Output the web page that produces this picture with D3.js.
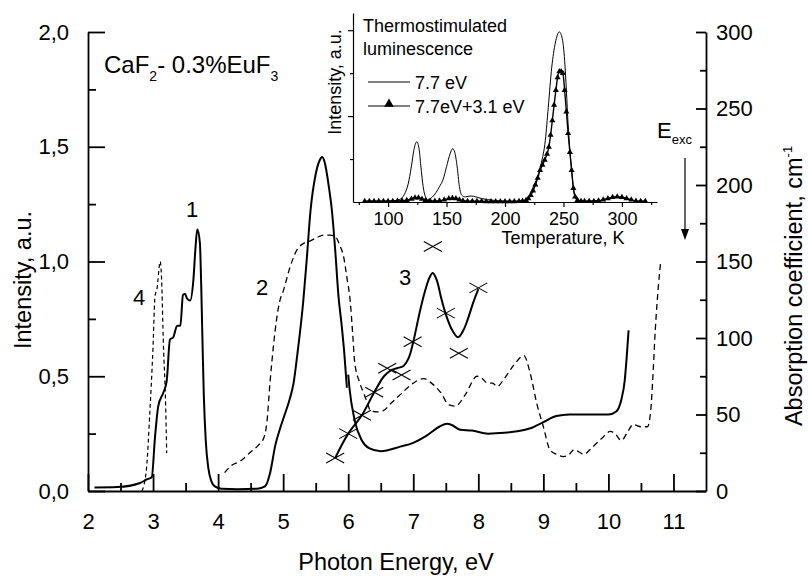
<!DOCTYPE html>
<html>
<head>
<meta charset="utf-8">
<script src="https://cdnjs.cloudflare.com/ajax/libs/d3/7.8.5/d3.min.js"></script>
<style>
body { margin: 0; background: #fff; }
</style>
</head>
<body>
<svg id="chart" width="808" height="576"></svg>
<script>
// curve 1 + 2 (solid, luminescence / excitation), Intensity a.u.
var lumE = [2.1, 2.45, 2.8, 2.9, 2.98, 3.03, 3.08, 3.16, 3.21, 3.26, 3.31, 3.37, 3.42, 3.46, 3.49, 3.52, 3.57, 3.62, 3.65, 3.68, 3.72, 3.74, 3.76, 3.78, 3.81, 3.85, 3.9, 3.95, 4.05, 4.3, 4.6, 4.72, 4.8, 4.88, 4.95, 5.02, 5.1, 5.16, 5.22, 5.31, 5.36, 5.42, 5.5, 5.56, 5.6, 5.64, 5.7, 5.75, 5.8, 5.85, 5.9, 5.94, 5.98];
var lumI = [0.015, 0.017, 0.035, 0.05, 0.06, 0.235, 0.37, 0.43, 0.48, 0.66, 0.67, 0.72, 0.72, 0.855, 0.86, 0.84, 0.83, 0.92, 1.05, 1.14, 1.08, 0.9, 0.65, 0.42, 0.22, 0.1, 0.04, 0.02, 0.01, 0.008, 0.01, 0.02, 0.08, 0.2, 0.27, 0.33, 0.4, 0.47, 0.6, 0.83, 1.0, 1.22, 1.38, 1.44, 1.455, 1.43, 1.33, 1.22, 1.05, 0.85, 0.72, 0.6, 0.45];

// curve 4 (short dashed)
var band4E = [2.83, 2.9, 2.95, 3.0, 3.03, 3.06, 3.11, 3.13, 3.16, 3.19, 3.21];
var band4I = [0.0, 0.1, 0.34, 0.63, 0.85, 0.88, 1.0, 0.93, 0.63, 0.41, 0.165];

// curve 2 (long dashed)
var exc2E = [4.1, 4.2, 4.34, 4.5, 4.62, 4.7, 4.75, 4.8, 4.85, 4.9, 4.95, 5.0, 5.1, 5.21, 5.32, 5.42, 5.52, 5.62, 5.72, 5.8, 5.87, 5.93, 5.98, 6.03, 6.07, 6.1, 6.18, 6.26, 6.3, 6.34, 6.45, 6.54, 6.65, 6.8, 7.0, 7.16, 7.28, 7.42, 7.55, 7.65, 7.8, 7.98, 8.06, 8.14, 8.22, 8.29, 8.4, 8.55, 8.7, 8.8, 8.9, 9.0, 9.1, 9.2, 9.31, 9.4, 9.47, 9.55, 9.62, 9.75, 9.9, 10.03, 10.1, 10.2, 10.3, 10.38, 10.5, 10.6, 10.65, 10.68, 10.72, 10.77, 10.8];
var exc2I = [0.08, 0.11, 0.13, 0.17, 0.2, 0.23, 0.3, 0.48, 0.63, 0.75, 0.83, 0.87, 0.97, 1.05, 1.08, 1.09, 1.105, 1.115, 1.115, 1.11, 1.07, 1.02, 0.93, 0.83, 0.68, 0.56, 0.47, 0.41, 0.38, 0.35, 0.345, 0.35, 0.38, 0.42, 0.47, 0.49, 0.47, 0.43, 0.375, 0.37, 0.42, 0.5, 0.49, 0.47, 0.47, 0.455, 0.49, 0.55, 0.59, 0.51, 0.38, 0.28, 0.18, 0.16, 0.15, 0.16, 0.18, 0.17, 0.16, 0.19, 0.23, 0.26, 0.25, 0.22, 0.26, 0.29, 0.28, 0.28, 0.35, 0.48, 0.7, 0.9, 0.99];

// absorption (solid), cm-1, right axis
var absE = [6.0, 6.02, 6.1, 6.21, 6.32, 6.5, 6.8, 7.0, 7.2, 7.4, 7.52, 7.6, 7.72, 7.9, 8.15, 8.4, 8.6, 8.8, 9.0, 9.2, 9.4, 9.7, 10.0, 10.12, 10.2, 10.25, 10.28, 10.31];
var absK = [76, 67, 46, 33, 28, 26, 29, 31.5, 36, 42, 44, 43, 40, 39.5, 37.5, 38, 39, 41, 45, 49, 50, 50, 50, 52, 60, 72, 87, 105];

// curve 3 (solid + crosses)
var c3E = [5.8, 6.0, 6.21, 6.4, 6.55, 6.65, 6.75, 6.85, 6.93, 7.0, 7.1, 7.18, 7.25, 7.3, 7.36, 7.43, 7.5, 7.6, 7.69, 7.77, 7.84, 7.92, 8.0];
var c3I = [0.144, 0.25, 0.33, 0.43, 0.5, 0.525, 0.535, 0.545, 0.58, 0.65, 0.78, 0.87, 0.93, 0.95, 0.92, 0.84, 0.77, 0.7, 0.67, 0.7, 0.75, 0.82, 0.88];
var crossE = [5.8, 6.0, 6.21, 6.4, 6.6, 6.82, 6.99, 7.3, 7.5, 7.7, 8.0];
var crossI = [0.144, 0.25, 0.33, 0.43, 0.535, 0.505, 0.65, 1.065, 0.775, 0.6, 0.885];

// inset: thermostimulated luminescence
var tempA = [82, 95, 105, 110, 114, 117, 120, 122, 124.5, 126.5, 128, 130, 132, 134, 138, 141, 144, 147, 150, 153, 155.2, 157, 159, 161, 163, 166, 171, 175, 180, 190, 200, 212, 218, 221, 224, 228, 231, 234.5, 237, 240, 243, 246.5, 249, 251, 252.5, 254, 255.5, 257, 258.5, 260, 262, 266, 280, 288, 296, 304, 312, 320];
var intA = [0.01, 0.01, 0.015, 0.03, 0.09, 0.2, 0.42, 0.6, 0.7, 0.62, 0.42, 0.18, 0.06, 0.03, 0.06, 0.11, 0.18, 0.26, 0.41, 0.56, 0.62, 0.58, 0.42, 0.18, 0.08, 0.06, 0.07, 0.06, 0.04, 0.02, 0.01, 0.01, 0.03, 0.07, 0.17, 0.3, 0.45, 0.72, 1.1, 1.57, 1.85, 1.98, 1.9, 1.65, 1.3, 0.9, 0.6, 0.37, 0.16, 0.06, 0.02, 0.01, 0.015, 0.04, 0.06, 0.04, 0.01, 0.008];
var tempB = [80, 84, 88, 92, 96, 100, 104, 108, 112, 116, 120, 123, 126, 129, 132, 136, 140, 144, 148, 152, 155, 158, 161, 164, 168, 172, 176, 180, 184, 188, 192, 196, 200, 204, 208, 212, 215, 218, 220, 222, 224, 226, 228, 230, 232, 234, 236, 237.5, 239, 240.5, 242, 243.5, 245, 246.5, 248, 249.5, 251, 252.5, 254, 255.5, 257, 258.5, 260, 262, 265, 268, 272, 276, 280, 284, 288, 292, 296, 300, 304, 308, 312, 316, 320];
var intB = [0.01, 0.01, 0.01, 0.01, 0.01, 0.01, 0.01, 0.012, 0.015, 0.02, 0.035, 0.05, 0.05, 0.035, 0.02, 0.012, 0.012, 0.015, 0.025, 0.04, 0.045, 0.04, 0.025, 0.015, 0.01, 0.01, 0.008, 0.008, 0.006, 0.006, 0.005, 0.005, 0.005, 0.005, 0.006, 0.008, 0.012, 0.02, 0.04, 0.08, 0.13, 0.2, 0.28, 0.37, 0.43, 0.49, 0.56, 0.64, 0.78, 0.95, 1.13, 1.3, 1.45, 1.52, 1.52, 1.5, 1.3, 1.05, 0.8, 0.58, 0.37, 0.16, 0.06, 0.02, 0.01, 0.01, 0.008, 0.01, 0.015, 0.025, 0.04, 0.055, 0.06, 0.055, 0.04, 0.025, 0.012, 0.008, 0.008];

// tick values
var xTicks = [2, 3, 4, 5, 6, 7, 8, 9, 10, 11];
var xMinor = [2.5, 3.5, 4.5, 5.5, 6.5, 7.5, 8.5, 9.5, 10.5];
var yTicks = [0, 0.5, 1.0, 1.5, 2.0];
var yMinor = [0.25, 0.75, 1.25, 1.75];
var yRTicks = [0, 50, 100, 150, 200, 250, 300];
var yRMinor = [25, 75, 125, 175, 225, 275];
var tTicks = [100, 150, 200, 250, 300];
var tMinor = [75, 125, 175, 225, 275, 325];
var iTicks = [1, 2];
var iMinor = [0.5, 1.5];

var FONT = "'Liberation Sans', Arial, Helvetica, sans-serif";

var svg = d3.select("#chart");

var x = d3.scaleLinear().domain([2, 11.5]).range([88, 706]);
var y = d3.scaleLinear().domain([0, 2]).range([491, 32]);
var yR = d3.scaleLinear().domain([0, 300]).range([491, 32]);

var xi = d3.scaleLinear().domain([70, 330]).range([353, 657]);
var yi = d3.scaleLinear().domain([0, 2.2]).range([202, 13]);

function styleAxis(g, size, width) {
    g.attr("font-family", FONT).attr("font-size", size);
    g.selectAll("line").attr("stroke", "#000").attr("stroke-width", width);
    g.select(".domain").attr("stroke", "#000").attr("stroke-width", width);
    g.selectAll("text").attr("fill", "#000");
}

// main axes
var gx = svg.append("g")
    .attr("transform", "translate(0,491)")
    .call(d3.axisBottom(x).tickValues(xTicks).tickSize(-17).tickSizeOuter(0).tickPadding(22).tickFormat(d3.format("d")));
styleAxis(gx, 22, 1.8);
var gxm = svg.append("g")
    .attr("transform", "translate(0,491)")
    .call(d3.axisBottom(x).tickValues(xMinor).tickSize(-8).tickFormat(""));
styleAxis(gxm, 22, 1.8);
gxm.select(".domain").remove();

var gy = svg.append("g")
    .attr("transform", "translate(88,0)")
    .call(d3.axisLeft(y).tickValues(yTicks).tickSize(-17).tickSizeOuter(0).tickPadding(19)
        .tickFormat(function (d) { return d3.format(".1f")(d).replace(".", ","); }));
styleAxis(gy, 22, 1.8);
var gym = svg.append("g")
    .attr("transform", "translate(88,0)")
    .call(d3.axisLeft(y).tickValues(yMinor).tickSize(-8).tickFormat(""));
styleAxis(gym, 22, 1.8);
gym.select(".domain").remove();

var gr = svg.append("g")
    .attr("transform", "translate(706,0)")
    .call(d3.axisRight(yR).tickValues(yRTicks).tickSize(-10).tickSizeOuter(0).tickPadding(10));
styleAxis(gr, 22, 1.8);
var grm = svg.append("g")
    .attr("transform", "translate(706,0)")
    .call(d3.axisRight(yR).tickValues(yRMinor).tickSize(-6).tickFormat(""));
styleAxis(grm, 22, 1.8);
grm.select(".domain").remove();

// axis titles
svg.append("text")
    .attr("x", 396).attr("y", 570)
    .attr("text-anchor", "middle")
    .attr("font-family", FONT).attr("font-size", 23.5)
    .text("Photon Energy, eV");

svg.append("text")
    .attr("transform", "translate(31,280) rotate(-90)")
    .attr("text-anchor", "middle")
    .attr("font-family", FONT).attr("font-size", 23.5)
    .text("Intensity, a.u.");

var rt = svg.append("text")
    .attr("transform", "translate(802,286) rotate(-90)")
    .attr("text-anchor", "middle")
    .attr("font-family", FONT).attr("font-size", 23.5);
rt.append("tspan").text("Absorption coefficient, cm");
rt.append("tspan").attr("font-size", 13).attr("dy", -10).text("-1");

// main curves
function lineOf(xs, ys, sx, sy, curve) {
    return d3.line()
        .x(function (d, i) { return sx(xs[i]); })
        .y(function (d, i) { return sy(ys[i]); })
        .curve(curve || d3.curveMonotoneX)(xs);
}

svg.append("path")
    .attr("d", lineOf(exc2E, exc2I, x, y))
    .attr("fill", "none").attr("stroke", "#000").attr("stroke-width", 1.3)
    .attr("stroke-dasharray", "6,4");

svg.append("path")
    .attr("d", lineOf(band4E, band4I, x, y))
    .attr("fill", "none").attr("stroke", "#000").attr("stroke-width", 1.2)
    .attr("stroke-dasharray", "4,3");

svg.append("path")
    .attr("d", lineOf(lumE, lumI, x, y))
    .attr("fill", "none").attr("stroke", "#000").attr("stroke-width", 2);

svg.append("path")
    .attr("d", lineOf(absE, absK, x, yR))
    .attr("fill", "none").attr("stroke", "#000").attr("stroke-width", 2);

svg.append("path")
    .attr("d", lineOf(c3E, c3I, x, y, d3.curveCatmullRom))
    .attr("fill", "none").attr("stroke", "#000").attr("stroke-width", 2);

svg.selectAll(".cross")
    .data(crossE)
    .enter()
    .append("path")
    .attr("class", "cross")
    .attr("transform", function (d, i) { return "translate(" + x(d) + "," + y(crossI[i]) + ")"; })
    .attr("d", "M-9,-5L9,5M-9,5L9,-5")
    .attr("stroke", "#000").attr("stroke-width", 1.1).attr("fill", "none");

// curve numbers
var nums = [["1", 192, 217], ["2", 262, 295], ["3", 405, 285], ["4", 139, 305]];
nums.forEach(function (n) {
    svg.append("text")
        .attr("x", n[1]).attr("y", n[2])
        .attr("text-anchor", "middle")
        .attr("font-family", FONT).attr("font-size", 22)
        .text(n[0]);
});

// sample name
var title = svg.append("text")
    .attr("x", 104).attr("y", 73)
    .attr("font-family", FONT).attr("font-size", 24);
title.append("tspan").text("CaF");
title.append("tspan").attr("font-size", 14).attr("dy", 8).text("2");
title.append("tspan").attr("dy", -8).text("- 0.3%EuF");
title.append("tspan").attr("font-size", 14).attr("dy", 8).text("3");

// E_exc with arrow
var ee = svg.append("text")
    .attr("x", 657).attr("y", 138)
    .attr("font-family", FONT).attr("font-size", 22);
ee.append("tspan").text("E");
ee.append("tspan").attr("font-size", 13).attr("dy", 6).text("exc");

svg.append("line")
    .attr("x1", 685).attr("x2", 685).attr("y1", 158).attr("y2", 232)
    .attr("stroke", "#000").attr("stroke-width", 1.2);
svg.append("path")
    .attr("d", "M681,229L689,229L685,240Z")
    .attr("fill", "#000");

// inset
var gi = svg.append("g").attr("class", "inset");

var gix = gi.append("g")
    .attr("transform", "translate(0,202)")
    .call(d3.axisBottom(xi).tickValues(tTicks).tickSize(5).tickSizeOuter(0).tickPadding(5));
styleAxis(gix, 18, 1.2);
var gixm = gi.append("g")
    .attr("transform", "translate(0,202)")
    .call(d3.axisBottom(xi).tickValues(tMinor).tickSize(3).tickFormat(""));
styleAxis(gixm, 18, 1.2);
gixm.select(".domain").remove();

var giy = gi.append("g")
    .attr("transform", "translate(353,0)")
    .call(d3.axisLeft(yi).tickValues(iTicks).tickSize(5).tickSizeOuter(0).tickFormat(""));
styleAxis(giy, 18, 1.2);
var giym = gi.append("g")
    .attr("transform", "translate(353,0)")
    .call(d3.axisLeft(yi).tickValues(iMinor).tickSize(3).tickFormat(""));
styleAxis(giym, 18, 1.2);
giym.select(".domain").remove();

gi.append("text")
    .attr("x", 563).attr("y", 244)
    .attr("text-anchor", "middle")
    .attr("font-family", FONT).attr("font-size", 18)
    .text("Temperature, K");

gi.append("text")
    .attr("transform", "translate(341,82) rotate(-90)")
    .attr("text-anchor", "middle")
    .attr("font-family", FONT).attr("font-size", 18)
    .text("Intensity, a.u.");

gi.append("text")
    .attr("x", 363).attr("y", 32)
    .attr("font-family", FONT).attr("font-size", 18)
    .text("Thermostimulated");
gi.append("text")
    .attr("x", 363).attr("y", 55)
    .attr("font-family", FONT).attr("font-size", 18)
    .text("luminescence");

gi.append("path")
    .attr("d", lineOf(tempA, intA, xi, yi))
    .attr("fill", "none").attr("stroke", "#000").attr("stroke-width", 1);

gi.append("path")
    .attr("d", lineOf(tempB, intB, xi, yi))
    .attr("fill", "none").attr("stroke", "#000").attr("stroke-width", 1.4);

var tri = d3.symbol().type(d3.symbolTriangle).size(16);
gi.selectAll(".tri")
    .data(tempB)
    .enter()
    .append("path")
    .attr("class", "tri")
    .attr("transform", function (d, i) { return "translate(" + xi(d) + "," + yi(intB[i]) + ")"; })
    .attr("d", tri)
    .attr("fill", "#000");

// inset legend
gi.append("line")
    .attr("x1", 368).attr("x2", 410).attr("y1", 82).attr("y2", 82)
    .attr("stroke", "#000").attr("stroke-width", 1);
gi.append("text")
    .attr("x", 415).attr("y", 89)
    .attr("font-family", FONT).attr("font-size", 18)
    .text("7.7 eV");
gi.append("line")
    .attr("x1", 368).attr("x2", 410).attr("y1", 106).attr("y2", 106)
    .attr("stroke", "#000").attr("stroke-width", 1);
gi.append("path")
    .attr("transform", "translate(389,104)")
    .attr("d", d3.symbol().type(d3.symbolTriangle).size(40))
    .attr("fill", "#000");
gi.append("text")
    .attr("x", 415).attr("y", 113)
    .attr("font-family", FONT).attr("font-size", 18)
    .text("7.7eV+3.1 eV");
</script>
</body>
</html>
